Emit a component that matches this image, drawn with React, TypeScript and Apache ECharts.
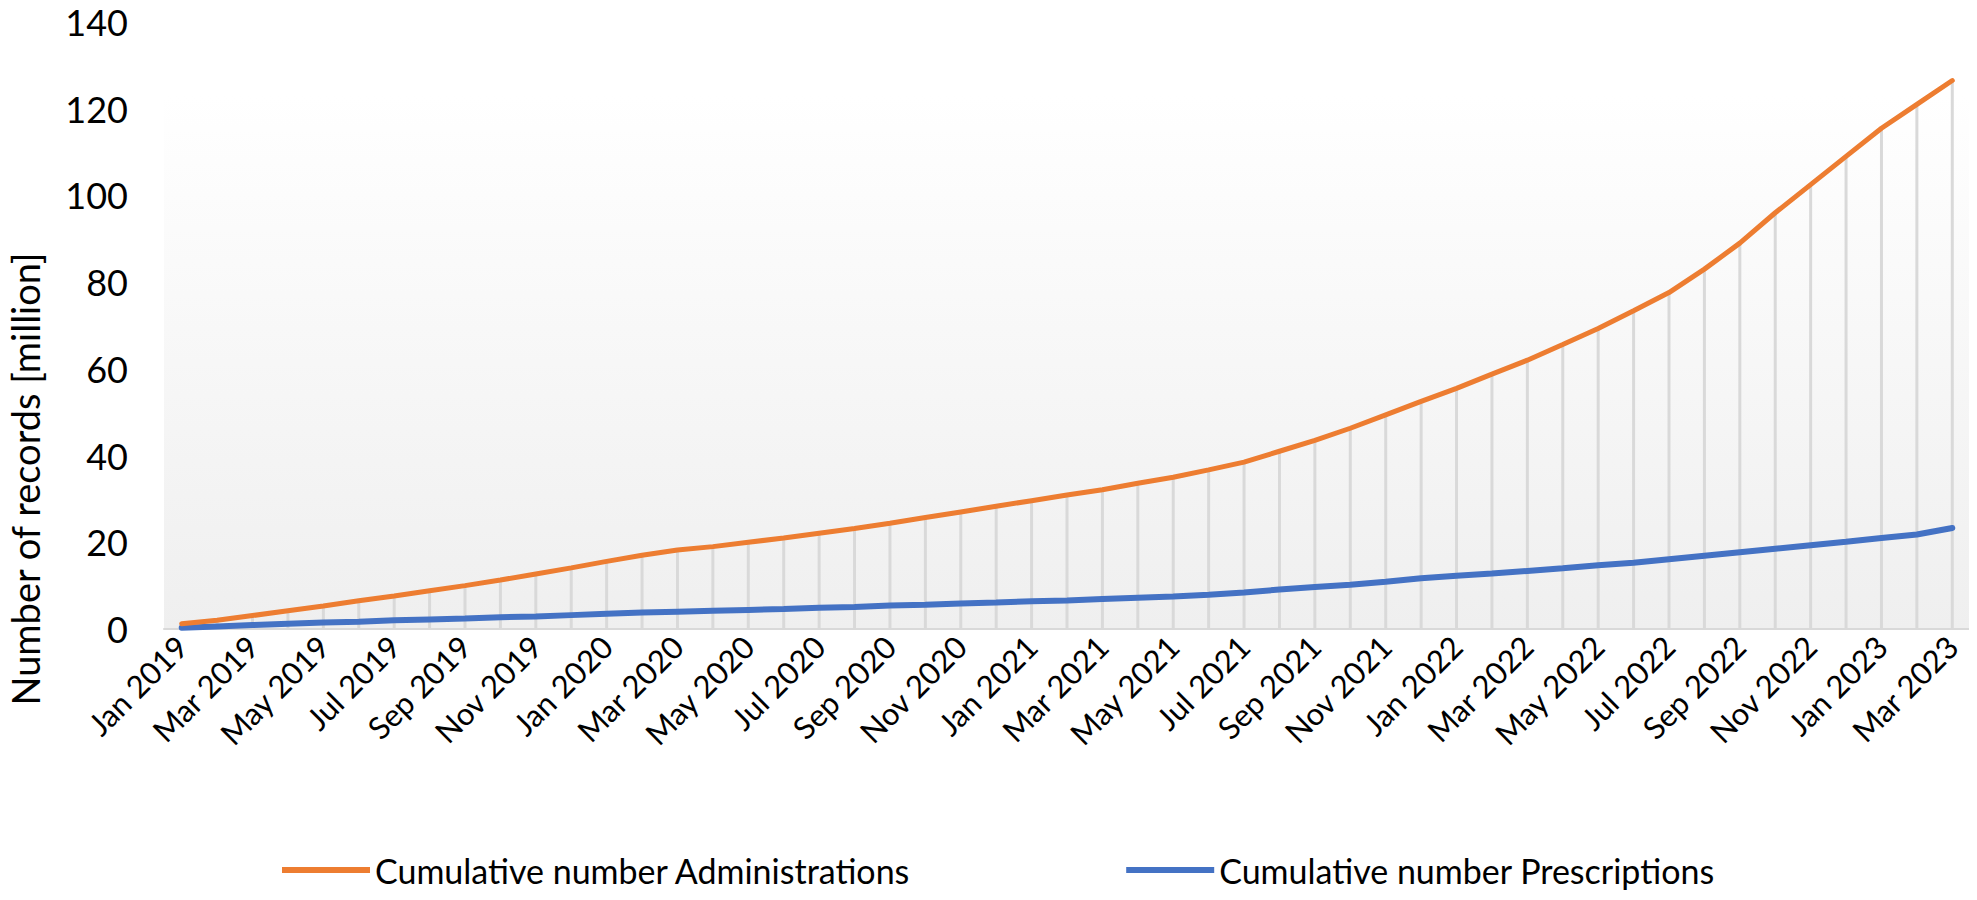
import { useEffect, useRef } from "react";
import * as echarts from "echarts";

const years = [2019, 2020, 2021, 2022, 2023];
const monthNames = ["Jan", "Feb", "Mar", "Apr", "May", "Jun", "Jul", "Aug", "Sep", "Oct", "Nov", "Dec"];
const months: string[] = [];
years.forEach((y) => monthNames.forEach((m, i) => { if (y < 2023 || i < 3) months.push(`${m} ${y}`); }));

const administrations = [
  1.2, 2.0, 3.1, 4.2, 5.3, 6.5, 7.6, 8.8, 10.0, 11.3, 12.7, 14.1,
  15.6, 17.0, 18.2, 19.0, 20.0, 21.0, 22.1, 23.2, 24.4, 25.7, 27.0, 28.3,
  29.6, 30.9, 32.1, 33.6, 35.0, 36.7, 38.5, 41.0, 43.5, 46.3, 49.4, 52.5,
  55.5, 58.8, 62.0, 65.6, 69.3, 73.4, 77.6, 83.0, 89.0, 96.0, 102.5, 109.0,
  115.5, 121.0, 126.5,
];
const prescriptions = [
  0.3, 0.6, 0.9, 1.2, 1.5, 1.7, 2.0, 2.2, 2.4, 2.7, 2.9, 3.2,
  3.5, 3.8, 4.0, 4.2, 4.4, 4.6, 4.9, 5.1, 5.4, 5.6, 5.9, 6.1,
  6.4, 6.6, 6.9, 7.2, 7.5, 7.9, 8.4, 9.1, 9.7, 10.2, 10.9, 11.7,
  12.3, 12.8, 13.4, 14.0, 14.7, 15.3, 16.1, 16.9, 17.7, 18.5, 19.3, 20.1,
  21.0, 21.8, 23.3,
];

const FONT = "Lato, 'Open Sans', sans-serif";

export default function App() {
  const ref = useRef<HTMLDivElement>(null);

  useEffect(() => {
    if (!ref.current) return;
    const chart = echarts.init(ref.current, undefined, { renderer: "svg" });
    chart.setOption({
      animation: false,
      textStyle: { fontFamily: FONT },
      graphic: [
        {
          type: "rect",
          z: -10,
          shape: { x: 164, y: 95, width: 1806, height: 534 },
          style: {
            fill: new echarts.graphic.LinearGradient(0, 0, 0, 1, [
              { offset: 0, color: "#ffffff" },
              { offset: 1, color: "#efefef" },
            ]),
          },
        },
        {
          type: "text",
          x: 25,
          y: 479,
          rotation: Math.PI / 2,
          style: {
            text: "Number of records [million]",
            fontSize: 38,
            fontFamily: FONT,
            fill: "#000",
            align: "center",
            verticalAlign: "middle",
          },
        },
      ],
      legend: {
        data: ["Cumulative number Administrations", "Cumulative number Prescriptions"],
        left: 277,
        top: 848,
        itemWidth: 88,
        itemHeight: 6,
        itemGap: 215,
        icon: "rect",
        textStyle: { fontSize: 34, color: "#000", fontFamily: FONT },
      },
      grid: { left: 164, right: 7, top: 22, bottom: 271 },
      xAxis: {
        type: "category",
        data: months,
        boundaryGap: true,
        axisLine: { lineStyle: { color: "#d9d9d9", width: 2 } },
        axisTick: { show: false },
        axisLabel: { interval: 1, rotate: 45, fontSize: 31, color: "#000", fontFamily: FONT, margin: 12 },
      },
      yAxis: {
        type: "value",
        min: 0,
        max: 140,
        interval: 20,
        axisLabel: { fontSize: 36, color: "#000", fontFamily: FONT, margin: 36 },
        axisLine: { show: false },
        axisTick: { show: false },
        splitLine: { show: false },
      },
      series: [
        {
          name: "drop",
          type: "bar",
          data: administrations,
          barWidth: 3,
          itemStyle: { color: "#d9d9d9" },
          z: 1,
          silent: true,
        },
        {
          name: "Cumulative number Administrations",
          type: "line",
          data: administrations,
          symbol: "none",
          lineStyle: { color: "#ed7d31", width: 5, cap: "round" },
          itemStyle: { color: "#ed7d31" },
          z: 3,
        },
        {
          name: "Cumulative number Prescriptions",
          type: "line",
          data: prescriptions,
          symbol: "none",
          lineStyle: { color: "#4472c4", width: 6, cap: "round" },
          itemStyle: { color: "#4472c4" },
          z: 2,
        },
      ],
    });
    return () => chart.dispose();
  }, []);

  return <div ref={ref} style={{ width: 1977, height: 900, margin: -8 }} />;
}
